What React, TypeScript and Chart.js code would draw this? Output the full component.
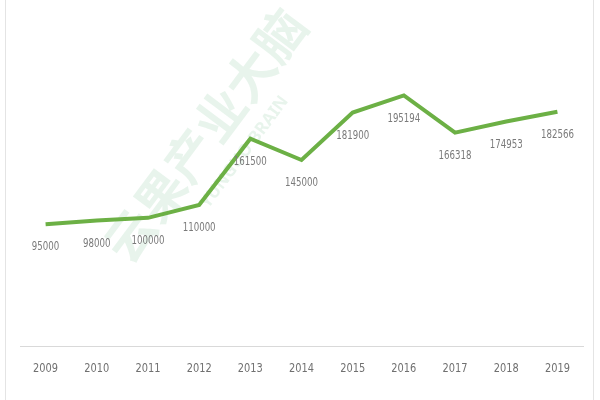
import React, { useEffect, useRef } from "react";
import { Chart, registerables } from "chart.js";

Chart.register(...registerables);

const years = ["2009", "2010", "2011", "2012", "2013", "2014", "2015", "2016", "2017", "2018", "2019"];
const values = [95000, 98000, 100000, 110000, 161500, 145000, 181900, 195194, 166318, 174953, 182566];

const FONT = "'DejaVu Sans Condensed', 'Roboto', sans-serif";

const labelPlugin = {
  id: "pointLabels",
  afterDatasetsDraw(chart: any) {
    const ctx = chart.ctx;
    const meta = chart.getDatasetMeta(0);
    ctx.save();
    ctx.font = `12px ${FONT}`;
    ctx.fillStyle = "#7a7a7a";
    ctx.textAlign = "center";
    ctx.textBaseline = "middle";
    meta.data.forEach((pt: any, i: number) => {
      ctx.save();
      ctx.translate(pt.x, pt.y + 23);
      ctx.scale(0.8, 1);
      ctx.fillText(String(values[i]), 0, 0);
      ctx.restore();
    });
    // x-axis year labels
    const xs = chart.scales.x;
    ctx.font = `13px ${FONT}`;
    ctx.fillStyle = "#707070";
    years.forEach((y, i) => {
      ctx.save();
      ctx.translate(xs.getPixelForValue(i), chart.chartArea.bottom + 22);
      ctx.scale(0.84, 1);
      ctx.fillText(y, 0, 0);
      ctx.restore();
    });
    ctx.restore();
  },
};

const watermarkPlugin = {
  id: "watermark",
  beforeDatasetsDraw(chart: any) {
    const ctx = chart.ctx;
    ctx.save();
    ctx.fillStyle = "rgba(120, 190, 140, 0.17)";
    ctx.textAlign = "center";
    ctx.textBaseline = "middle";
    ctx.translate(205, 135);
    ctx.rotate(-0.93);
    ctx.font = `bold 50px 'Noto Sans CJK SC', sans-serif`;
    ctx.fillText("云果产业大脑", 0, 0);
    ctx.font = `bold 17px 'Noto Sans', sans-serif`;
    ctx.fillText("YUNGUO BRAIN", 10, 42);
    ctx.restore();
  },
};

export default function App() {
  const ref = useRef<HTMLCanvasElement>(null);
  useEffect(() => {
    if (!ref.current) return;
    const chart = new Chart(ref.current, {
      type: "line",
      data: {
        labels: years,
        datasets: [
          {
            data: values,
            borderColor: "#6cb045",
            borderWidth: 4,
            pointRadius: 0,
            tension: 0,
            fill: false,
          },
        ],
      },
      options: {
        animation: false,
        responsive: false,
        maintainAspectRatio: false,
        layout: { padding: { top: 25, left: 20, right: 17, bottom: 14 } },
        plugins: { legend: { display: false }, tooltip: { enabled: false } },
        scales: {
          x: {
            offset: true,
            grid: { display: false, drawTicks: false },
            border: { display: true, color: "#d9d9d9", width: 1 },
            ticks: { color: "rgba(0,0,0,0)", font: { family: FONT, size: 13 }, padding: 12 },
          },
          y: {
            display: false,
            min: 0,
            max: 250000,
          },
        },
      },
      plugins: [watermarkPlugin, labelPlugin],
    });
    return () => chart.destroy();
  }, []);
  return (
    <div style={{ position: "absolute", left: 0, top: 0, width: 600, height: 400, background: "#fff" }}>
      <div style={{ position: "absolute", left: 5, top: 0, width: 587, height: 400, borderLeft: "1px solid #e4e4e4", borderRight: "1px solid #e4e4e4" }} />
      <canvas ref={ref} width={600} height={400} style={{ position: "absolute", left: 0, top: 0 }} />
    </div>
  );
}
